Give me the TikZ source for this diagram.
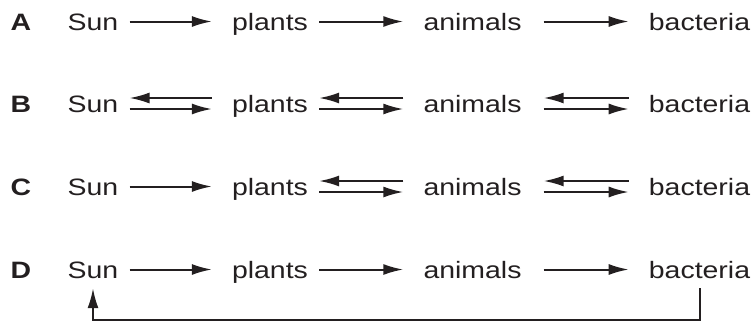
\documentclass[tikz,border=0pt]{standalone}
\usepackage{fontspec}
\setmainfont{Liberation Sans}[FakeStretch=1.2]
\usetikzlibrary{arrows.meta}
\definecolor{ink}{RGB}{35,31,32}

\begin{document}
\begin{tikzpicture}[
		x=1pt, y=-1pt,
		every node/.style={text=ink},
		word/.style={inner sep=0pt, anchor=base, text height=17pt, text depth=0pt,
			font=\fontsize{23.7}{28}\selectfont},
		letter/.style={word, font=\fontsize{23.7}{28}\selectfont\bfseries},
		fwd/.style={draw=ink, line width=2pt, -{Latex[length=20pt,width=11pt]},
			shorten <=11pt, shorten >=20pt},
		bwd/.style={fwd, shorten <=20pt, shorten >=11pt}
	]
	\useasboundingbox (0,0) rectangle (756,325);

	% the four rows of words
	\foreach \r/\y in {A/30,B/112,C/195,D/278} {
		\node[letter] (l\r) at (21,\y) {\r};
		\node[word] (sun\r) at (93,\y) {Sun};
		\node[word] (plants\r) at (270,\y) {plants};
		\node[word] (animals\r) at (472.5,\y) {animals};
		\node[word] (bact\r) at (699.5,\y) {bacteria};
	}

	% A
	\draw[fwd] (sunA.east) -- (plantsA.west);
	\draw[fwd] (plantsA.east) -- (animalsA.west);
	\draw[fwd, shorten <=22pt] (animalsA.east) -- (bactA.west);

	% B
	\draw[bwd] ([yshift=5.5pt]plantsB.west) -- ([yshift=5.5pt]sunB.east);
	\draw[fwd] ([yshift=-5.5pt]sunB.east) -- ([yshift=-5.5pt]plantsB.west);
	\draw[bwd] ([yshift=5.5pt]animalsB.west) -- ([yshift=5.5pt]plantsB.east);
	\draw[fwd] ([yshift=-5.5pt]plantsB.east) -- ([yshift=-5.5pt]animalsB.west);
	\draw[bwd, shorten >=22pt] ([yshift=5.5pt]bactB.west) -- ([yshift=5.5pt]animalsB.east);
	\draw[fwd, shorten <=22pt] ([yshift=-5.5pt]animalsB.east) -- ([yshift=-5.5pt]bactB.west);

	% C
	\draw[fwd] (sunC.east) -- (plantsC.west);
	\draw[bwd] ([yshift=5.5pt]animalsC.west) -- ([yshift=5.5pt]plantsC.east);
	\draw[fwd] ([yshift=-5.5pt]plantsC.east) -- ([yshift=-5.5pt]animalsC.west);
	\draw[bwd, shorten >=22pt] ([yshift=5.5pt]bactC.west) -- ([yshift=5.5pt]animalsC.east);
	\draw[fwd, shorten <=22pt] ([yshift=-5.5pt]animalsC.east) -- ([yshift=-5.5pt]bactC.west);

	% D
	\draw[fwd] (sunD.east) -- (plantsD.west);
	\draw[fwd] (plantsD.east) -- (animalsD.west);
	\draw[fwd, shorten <=22pt] (animalsD.east) -- (bactD.west);
	\draw[fwd, shorten <=10pt, shorten >=10pt] (bactD.south) -- ++(0,42) -| (sunD.south);
\end{tikzpicture}
\end{document}
